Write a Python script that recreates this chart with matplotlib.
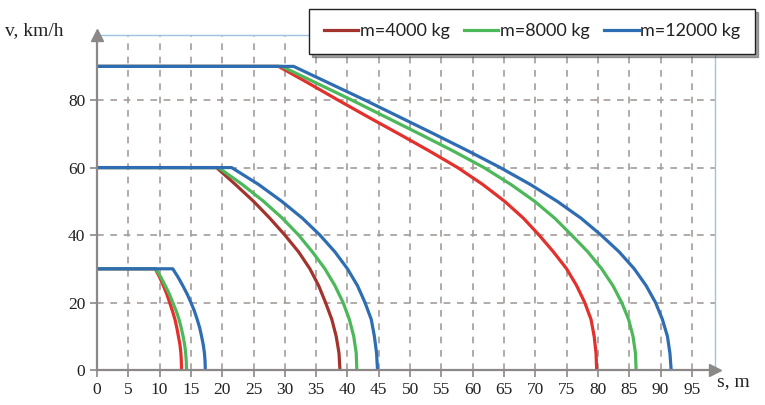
import matplotlib
matplotlib.use("Agg")
import matplotlib.pyplot as plt
from matplotlib.lines import Line2D

# speeds (km/h) and distances (m), one list per curve
v90 = [90, 90, 85, 80, 75, 70, 65, 60, 55, 50, 45, 40, 35, 30, 25, 20, 15, 10, 5, 0]
s90_4000 = [0, 29.0, 33.8, 38.5, 43.3, 48.2, 53.0, 57.6, 61.6, 65.1, 68.1,
            70.6, 72.9, 75.0, 76.6, 77.9, 78.9, 79.4, 79.7, 79.8]
s90_8000 = [0, 29.5, 35.1, 40.7, 46.1, 51.5, 56.8, 61.8, 66.1, 69.9, 73.1,
            75.8, 78.4, 80.6, 82.4, 83.8, 84.9, 85.6, 86.0, 86.1]
s90_12000 = [0, 31.4, 37.1, 42.8, 48.3, 53.8, 59.2, 64.4, 69.2, 73.5, 77.3,
             80.5, 83.4, 85.8, 87.7, 89.2, 90.3, 91.1, 91.5, 91.7]

v60 = [60, 60, 55, 50, 45, 40, 35, 30, 25, 20, 15, 10, 5, 0]
s60_4000 = [0, 19.1, 22.1, 25.0, 27.6, 30.0, 32.2, 34.0, 35.4, 36.5, 37.5,
            38.2, 38.65, 38.8]
s60_8000 = [0, 19.4, 23.2, 26.6, 29.6, 32.2, 34.4, 36.4, 38.0, 39.3, 40.3,
            41.0, 41.4, 41.5]
s60_12000 = [0, 21.5, 25.8, 29.5, 32.8, 35.6, 38.0, 40.0, 41.6, 42.8, 43.8,
             44.3, 44.65, 44.8]

v30 = [30, 30, 27.5, 25, 22.5, 20, 17.5, 15, 12.5, 10, 7.5, 5, 2.5, 0]
s30_4000 = [0, 9.3, 10.0, 10.6, 11.15, 11.6, 12.05, 12.45, 12.75, 13.0,
            13.25, 13.4, 13.47, 13.5]
s30_8000 = [0, 9.4, 10.2, 10.9, 11.55, 12.1, 12.65, 13.1, 13.45, 13.75,
            14.0, 14.16, 14.26, 14.3]
s30_12000 = [0, 12.1, 12.95, 13.7, 14.4, 15.0, 15.55, 16.0, 16.4, 16.7,
             16.97, 17.16, 17.26, 17.3]

labels = ["m=4000 kg", "m=8000 kg", "m=12000 kg"]
xticks = list(range(0, 100, 5))
yticks = [0, 20, 40, 60, 80]

red = "#e3302c"
dark_red = "#a3342d"
green = "#4cb85a"
blue = "#2f6db3"
grid_c = "#a39d9b"
axis_c = "#8c8888"

fig = plt.figure(figsize=(7.65, 4.05), dpi=100)
ax = fig.add_axes([97 / 765, 35 / 405, 618 / 765, 335 / 405])

lw = 2.3
kw = dict(lw=lw, zorder=3, solid_joinstyle="round")
ax.plot(s90_4000, v90, color=red, **kw)
ax.plot(s90_8000, v90, color=green, **kw)
ax.plot(s90_12000, v90, color=blue, **kw)
ax.plot(s60_4000, v60, color=dark_red, **kw)
ax.plot(s60_8000, v60, color=green, **kw)
ax.plot(s60_12000, v60, color=blue, **kw)
ax.plot(s30_4000, v30, color=red, **kw)
ax.plot(s30_8000, v30, color=green, **kw)
ax.plot(s30_12000, v30, color=blue, **kw)

ax.set_xlim(0, 98.7)
ax.set_ylim(0, 99.3)
ax.set_xticks(xticks)
ax.set_yticks(yticks)

serif = "Liberation Serif"
ax.tick_params(axis="both", colors=axis_c, labelcolor="#222222", labelsize=12.5,
               length=5, width=1.2)
for t in ax.get_xticklabels() + ax.get_yticklabels():
    t.set_fontfamily(serif)

for x in xticks[1:]:
    ax.axvline(x, color=grid_c, lw=1.2, ls=(0, (4, 4)), zorder=1)
for y in yticks[1:]:
    ax.axhline(y, color=grid_c, lw=1.2, ls=(0, (4, 4)), zorder=1)

for side in ["top", "right"]:
    ax.spines[side].set_color("#9dc3e6")
    ax.spines[side].set_linewidth(1.0)
for side in ["left", "bottom"]:
    ax.spines[side].set_color(axis_c)
    ax.spines[side].set_linewidth(1.6)
    ax.spines[side].set_zorder(4)

# arrow heads on the two axes
ax.plot(0, 1, marker="^", ms=8, color=axis_c, transform=ax.transAxes,
        clip_on=False, zorder=5)
ax.plot(1, 0, marker=">", ms=8, color=axis_c, transform=ax.transAxes,
        clip_on=False, zorder=5)

fig.text(5 / 765, 1 - 31 / 405, "v, km/h", family=serif, fontsize=14,
         color="#222222", va="center", ha="left")
fig.text(717 / 765, 1 - 382 / 405, "s, m", family=serif, fontsize=14,
         color="#222222", va="center", ha="left")

handles = [Line2D([], [], color=dark_red, lw=lw),
           Line2D([], [], color=green, lw=lw),
           Line2D([], [], color=blue, lw=lw)]
leg = fig.legend(handles, labels, ncol=3, loc="upper right",
                 bbox_to_anchor=(755 / 765, 1 - 9 / 405),
                 frameon=True, fancybox=False, shadow=True,
                 prop={"family": "Lato", "size": 13},
                 handlelength=1.9, handletextpad=0.1, columnspacing=0.8,
                 borderpad=0.8, borderaxespad=0)
leg.get_frame().set_edgecolor("#222222")
leg.get_frame().set_linewidth(1.0)
for t in leg.get_texts():
    t.set_color("#222222")

fig.savefig("out.png", dpi=100)
